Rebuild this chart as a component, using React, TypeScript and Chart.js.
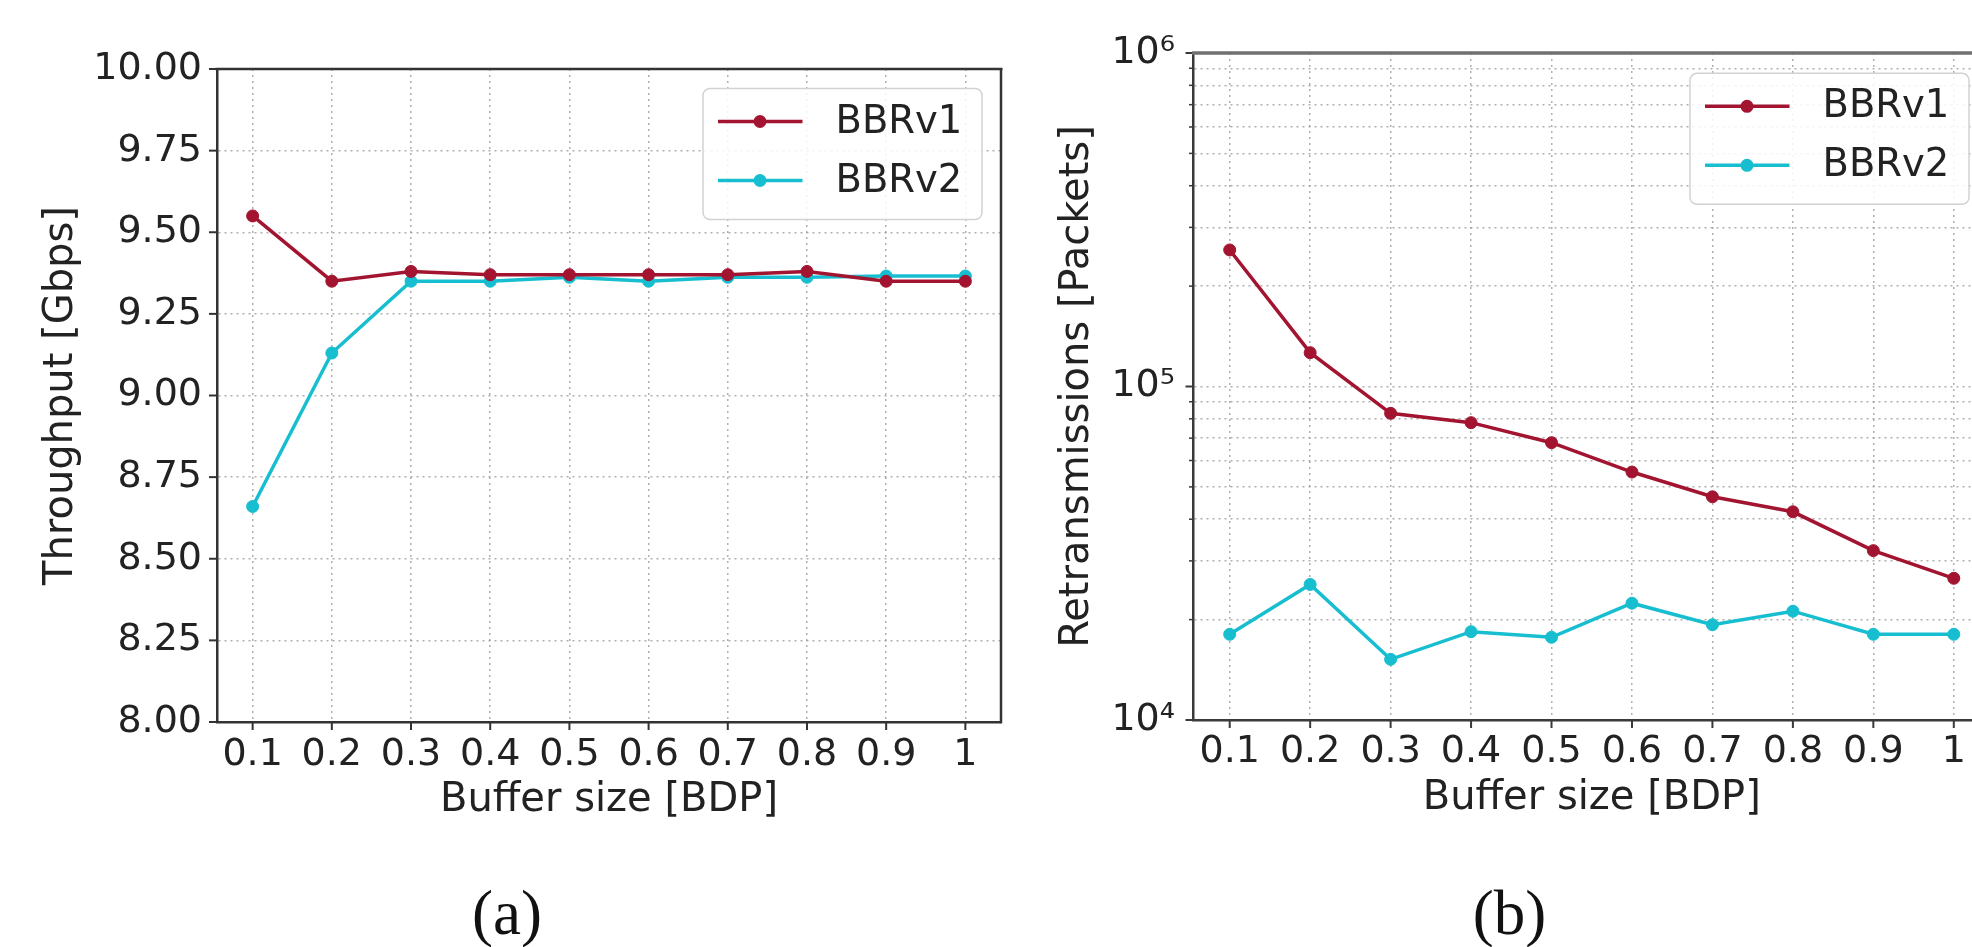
import React, { useEffect, useRef } from 'react';
import { Chart, registerables } from 'chart.js';

Chart.register(...registerables);

// ---------------- data ----------------
const BUFFER_SIZES = [0.1, 0.2, 0.3, 0.4, 0.5, 0.6, 0.7, 0.8, 0.9, 1.0];
const BUFFER_TICK_LABELS = ['0.1', '0.2', '0.3', '0.4', '0.5', '0.6', '0.7', '0.8', '0.9', '1'];
const SERIES_LABELS = ['BBRv1', 'BBRv2'];
const SERIES_COLORS = ['#A2142F', '#17BECF'];

// (a) Throughput [Gbps]
const THROUGHPUT_BBRV1 = [9.55, 9.35, 9.38, 9.37, 9.37, 9.37, 9.37, 9.38, 9.35, 9.35];
const THROUGHPUT_BBRV2 = [8.66, 9.13, 9.35, 9.35, 9.362, 9.35, 9.362, 9.362, 9.366, 9.366];
const THROUGHPUT_TICKS = [8.0, 8.25, 8.5, 8.75, 9.0, 9.25, 9.5, 9.75, 10.0];
const THROUGHPUT_TICK_LABELS = ['8.00', '8.25', '8.50', '8.75', '9.00', '9.25', '9.50', '9.75', '10.00'];

// (b) Retransmissions [Packets]
const RETRANS_BBRV1 = [256700, 126300, 83100, 77900, 67850, 55400, 46700, 42100, 32200, 26600];
const RETRANS_BBRV2 = [18070, 25500, 15200, 18400, 17700, 22400, 19300, 21200, 18070, 18070];
const RETRANS_DECADES = [1e4, 1e5, 1e6];
const RETRANS_DECADE_LABELS = ['10\u2074', '10\u2075', '10\u2076'];
const RETRANS_MINOR_STEPS = [2, 3, 4, 5, 6, 7, 8, 9];

// ---------------- style ----------------
const TEXT = '#222222';
const SPINE = '#333333';
const GRID = 'rgba(150,150,150,0.75)';
const FONT = "'DejaVu Sans'";

Chart.defaults.font.family = FONT;

const RETRANS_MINOR = RETRANS_DECADES.slice(0, -1).flatMap((d) => RETRANS_MINOR_STEPS.map((m) => m * d));
const RETRANS_ALL = [...RETRANS_DECADES, ...RETRANS_MINOR].sort((a, b) => a - b);

type Panel = {
  series: number[][];
  yType: 'linear' | 'logarithmic';
  yMin: number;
  yMax: number;
  yTickValues: number[];
  yLabel: (v: number, i: number) => string;
  yTitle: string;
  yAxisWidth: number;
  yLabelPad: number;
  yTitlePad: number;
  padTop: number;
  padRight: number;
  xAxisHeight: number;
  xLabelPad: number;
  xTitlePad: number;
  majorY: number[];
  minorY: number[];
  topColor: string;
  topWidth: number;
  spineColor: string;
  legendInsetRight: number;
  legendInsetTop: number;
};

function decorations(p: Panel) {
  return {
    id: 'decorations',
    afterDraw(chart: any) {
      const ctx: CanvasRenderingContext2D = chart.ctx;
      const { left, right, top, bottom } = chart.chartArea;
      const xs = chart.scales.x;
      const ys = chart.scales.y;
      const seg = (x1: number, y1: number, x2: number, y2: number, w: number) => {
        ctx.lineWidth = w;
        ctx.beginPath();
        ctx.moveTo(x1, y1);
        ctx.lineTo(x2, y2);
        ctx.stroke();
      };
      ctx.save();
      ctx.lineCap = 'butt';
      // tick marks
      ctx.strokeStyle = p.spineColor;
      p.majorY.forEach((v) => {
        const py = ys.getPixelForValue(v);
        seg(left - 8, py, left, py, 2);
      });
      p.minorY.forEach((v) => {
        const py = ys.getPixelForValue(v);
        seg(left - 4.5, py, left, py, 1.5);
      });
      BUFFER_SIZES.forEach((v) => {
        const px = xs.getPixelForValue(v);
        seg(px, bottom, px, bottom + 8, 2);
      });
      // top & right spines
      ctx.strokeStyle = p.topColor;
      seg(left - 1.5, top, right + 1.5, top, p.topWidth);
      ctx.strokeStyle = p.spineColor;
      seg(right, top, right, bottom + 1.25, 2.5);

      // legend
      const bw = 279;
      const bh = 131;
      const bx = right - p.legendInsetRight - bw;
      const by = top + p.legendInsetTop;
      ctx.beginPath();
      if ((ctx as any).roundRect) (ctx as any).roundRect(bx, by, bw, bh, 7);
      else ctx.rect(bx, by, bw, bh);
      ctx.fillStyle = 'rgba(255,255,255,0.85)';
      ctx.fill();
      ctx.strokeStyle = '#d2d2d2';
      ctx.lineWidth = 1.5;
      ctx.stroke();
      chart.data.datasets.forEach((ds: any, i: number) => {
        const ry = by + 33 + i * 59;
        ctx.strokeStyle = ds.borderColor;
        seg(bx + 15, ry, bx + 99.5, ry, 3.5);
        ctx.fillStyle = ds.borderColor;
        ctx.beginPath();
        ctx.arc(bx + 57, ry, 6.5, 0, Math.PI * 2);
        ctx.fill();
        ctx.fillStyle = TEXT;
        ctx.font = `38.5px ${FONT}`;
        ctx.textAlign = 'left';
        ctx.textBaseline = 'middle';
        ctx.fillText(ds.label, bx + 132.5, ry + 1);
      });
      ctx.restore();
    },
  };
}

function makeConfig(p: Panel): any {
  return {
    type: 'line',
    data: {
      datasets: p.series.map((vals, i) => ({
        label: SERIES_LABELS[i],
        data: BUFFER_SIZES.map((x, j) => ({ x, y: vals[j] })),
        borderColor: SERIES_COLORS[i],
        backgroundColor: SERIES_COLORS[i],
        pointBackgroundColor: SERIES_COLORS[i],
        pointBorderColor: SERIES_COLORS[i],
        borderWidth: 3.5,
        pointRadius: 6,
        pointBorderWidth: 1,
        tension: 0,
        fill: false,
      })),
    },
    options: {
      responsive: false,
      maintainAspectRatio: false,
      animation: false,
      devicePixelRatio: 1,
      events: [],
      layout: { padding: { top: p.padTop, right: p.padRight, left: 0, bottom: 0 } },
      plugins: {
        legend: { display: false },
        tooltip: { enabled: false },
        title: { display: false },
      },
      scales: {
        x: {
          type: 'linear',
          position: 'bottom',
          bounds: 'data',
          min: 0.055,
          max: 1.045,
          afterBuildTicks: (s: any) => {
            s.ticks = BUFFER_SIZES.map((v) => ({ value: v }));
          },
          afterFit: (s: any) => {
            s.height = p.xAxisHeight;
          },
          ticks: {
            autoSkip: false,
            maxRotation: 0,
            minRotation: 0,
            padding: p.xLabelPad,
            color: TEXT,
            font: { size: 38, family: FONT },
            callback: (_v: number, i: number) => BUFFER_TICK_LABELS[i],
          },
          grid: { drawTicks: false, color: GRID, lineWidth: 1.5 },
          border: { display: true, color: p.spineColor, width: 2.5, dash: [2, 4] },
          title: {
            display: true,
            text: 'Buffer size [BDP]',
            color: TEXT,
            font: { size: 40, family: FONT },
            padding: { top: 0, bottom: p.xTitlePad },
          },
        },
        y: {
          type: p.yType,
          position: 'left',
          bounds: 'data',
          min: p.yMin,
          max: p.yMax,
          afterBuildTicks: (s: any) => {
            s.ticks = p.yTickValues.map((v) => ({ value: v }));
          },
          afterFit: (s: any) => {
            s.width = p.yAxisWidth;
          },
          ticks: {
            autoSkip: false,
            padding: p.yLabelPad,
            color: TEXT,
            font: { size: 38, family: FONT },
            callback: (v: number, i: number) => p.yLabel(v, i),
          },
          grid: { drawTicks: false, color: GRID, lineWidth: 1.5 },
          border: { display: true, color: p.spineColor, width: 2.5, dash: [2, 4] },
          title: {
            display: true,
            text: p.yTitle,
            color: TEXT,
            font: { size: 40, family: FONT },
            padding: { top: p.yTitlePad, bottom: 0 },
          },
        },
      },
    },
    plugins: [decorations(p)],
  };
}

const PANEL_A: Panel = {
  series: [THROUGHPUT_BBRV1, THROUGHPUT_BBRV2],
  yType: 'linear',
  yMin: 8,
  yMax: 10,
  yTickValues: THROUGHPUT_TICKS,
  yLabel: (_v, i) => THROUGHPUT_TICK_LABELS[i],
  yTitle: 'Throughput [Gbps]',
  yAxisWidth: 217,
  yLabelPad: 15,
  yTitlePad: 38,
  padTop: 69,
  padRight: 9,
  xAxisHeight: 225,
  xLabelPad: 10,
  xTitlePad: 122,
  majorY: THROUGHPUT_TICKS,
  minorY: [],
  topColor: SPINE,
  topWidth: 2.5,
  spineColor: SPINE,
  legendInsetRight: 19,
  legendInsetTop: 19.5,
};

const PANEL_B: Panel = {
  series: [RETRANS_BBRV1, RETRANS_BBRV2],
  yType: 'logarithmic',
  yMin: 1e4,
  yMax: 1e6,
  yTickValues: RETRANS_ALL,
  yLabel: (v) => {
    const k = RETRANS_DECADES.indexOf(v);
    return k >= 0 ? RETRANS_DECADE_LABELS[k] : '';
  },
  yTitle: 'Retransmissions [Packets]',
  yAxisWidth: 183.5,
  yLabelPad: 18.5,
  yTitlePad: 44,
  padTop: 53,
  padRight: 20,
  xAxisHeight: 227,
  xLabelPad: 9,
  xTitlePad: 124,
  majorY: RETRANS_DECADES,
  minorY: RETRANS_MINOR,
  topColor: '#707070',
  topWidth: 3.5,
  spineColor: '#3a3a3a',
  legendInsetRight: 21,
  legendInsetTop: 20.3,
};

function ChartCanvas(props: { left: number; width: number; height: number; panel: Panel }) {
  const ref = useRef<HTMLCanvasElement>(null);
  useEffect(() => {
    const chart = new Chart(ref.current as HTMLCanvasElement, makeConfig(props.panel));
    return () => chart.destroy();
  }, []);
  return (
    <canvas
      ref={ref}
      width={props.width}
      height={props.height}
      style={{ position: 'absolute', left: props.left, top: 0, width: props.width, height: props.height }}
    />
  );
}

const captionStyle = (cx: number): React.CSSProperties => ({
  position: 'absolute',
  left: cx,
  top: 882,
  transform: 'translateX(-50%)',
  fontFamily: "'Liberation Serif', 'Times New Roman', serif",
  fontSize: 63,
  lineHeight: '63px',
  color: '#111',
  whiteSpace: 'nowrap',
});

export default function App() {
  return (
    <div
      style={{
        position: 'fixed',
        left: 0,
        top: 0,
        width: 1972,
        height: 947,
        overflow: 'hidden',
        background: '#ffffff',
      }}
    >
      <ChartCanvas left={0} width={1010} height={947} panel={PANEL_A} />
      <ChartCanvas left={1010} width={1000} height={947} panel={PANEL_B} />
      <div style={captionStyle(507)}>(a)</div>
      <div style={captionStyle(1509.5)}>(b)</div>
    </div>
  );
}
